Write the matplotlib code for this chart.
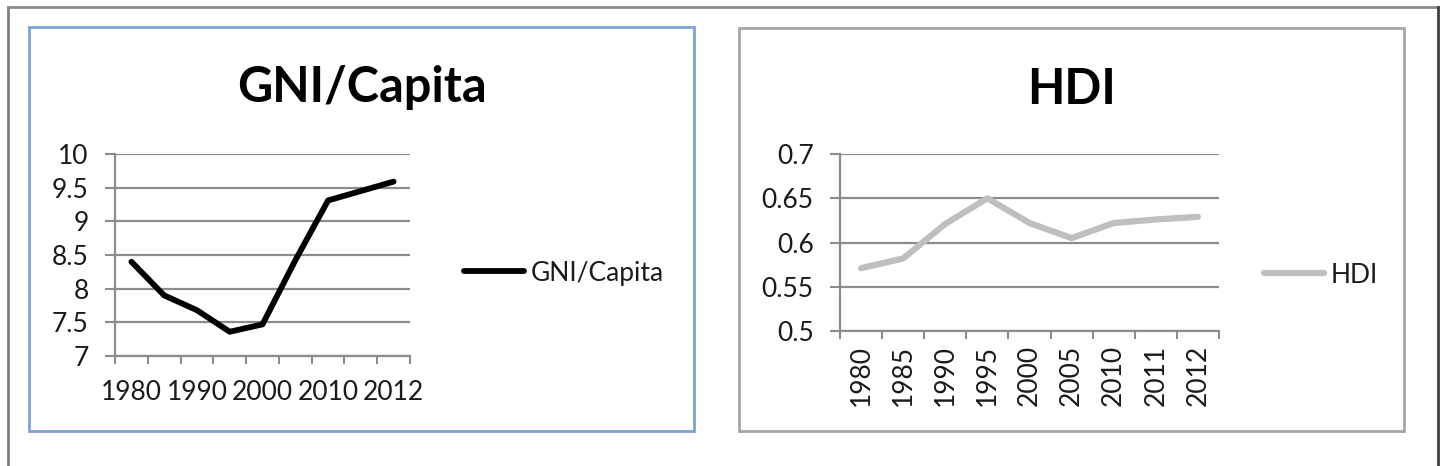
import matplotlib.pyplot as plt
from matplotlib.patches import Rectangle

# -------------------------------------------------
# DATA
# -------------------------------------------------
years = ["1980", "1985", "1990", "1995", "2000", "2005", "2010", "2011", "2012"]
gni_per_capita = [8.40, 7.90, 7.68, 7.36, 7.47, 8.42, 9.31, 9.45, 9.59]
hdi = [0.571, 0.582, 0.621, 0.650, 0.622, 0.605, 0.622, 0.626, 0.629]

gni_ticks = [7, 7.5, 8, 8.5, 9, 9.5, 10]
hdi_ticks = [0.5, 0.55, 0.6, 0.65, 0.7]

# -------------------------------------------------
# STYLE
# -------------------------------------------------
FONT = ["Lato", "DejaVu Sans"]
GRID = "#8C8C8C"
TXT = "#1A1A1A"
LABEL_FS = 19
W, H = 1445, 466

plt.rcParams["font.family"] = FONT


def fx(px):
    return px / W


def fy(py):
    return 1 - py / H


def category_axes(ax, labels, rotate, label_every, pad):
    n = len(labels)
    ax.set_xlim(-0.5, n - 0.5)
    ax.set_xticks(range(n))
    shown = [lab if i % label_every == 0 else "" for i, lab in enumerate(labels)]
    ax.set_xticklabels(shown, rotation=90 if rotate else 0)
    ax.tick_params(axis="x", which="major", length=0, pad=pad,
                   labelsize=LABEL_FS, labelcolor=TXT)
    ax.set_xticks([i - 0.5 for i in range(n + 1)], minor=True)
    ax.tick_params(axis="x", which="minor", length=6, width=1.5, color=GRID, direction="out")
    ax.tick_params(axis="y", length=7, width=1.5, color=GRID, pad=12,
                   labelsize=LABEL_FS, labelcolor=TXT)
    ax.grid(axis="y", color=GRID, linewidth=1.6)
    ax.set_axisbelow(True)
    for s in ["top", "right"]:
        ax.spines[s].set_visible(False)
    for s in ["left", "bottom"]:
        ax.spines[s].set_color(GRID)
        ax.spines[s].set_linewidth(1.6)


fig = plt.figure(figsize=(W / 100, H / 100), dpi=100)
fig.patch.set_facecolor("white")

# frame and panel borders
bg = fig.add_axes([0, 0, 1, 1])
bg.set_xlim(0, W)
bg.set_ylim(H, 0)
bg.axis("off")
bg.plot([8, 8], [H, 6.5], color="#7F7F7F", lw=2)
bg.plot([8, 1438], [6.5, 6.5], color="#8C8C8C", lw=2)
bg.plot([1438, 1438], [6.5, H], color="#404040", lw=2)
bg.add_patch(Rectangle((29, 27), 665, 404, fill=False, edgecolor="#7DA2D5", lw=2))
bg.add_patch(Rectangle((739, 28), 665, 403, fill=False, edgecolor="#A6A6A6", lw=2))

# -------------------------------------------------
# LEFT: GNI/Capita
# -------------------------------------------------
ax1 = fig.add_axes([fx(115), fy(356), fx(410 - 115), (356 - 154) / H])
x = range(len(years))
ax1.plot(x, gni_per_capita, color="black", lw=4.2, solid_joinstyle="round",
         solid_capstyle="round", label="GNI/Capita")
ax1.set_ylim(7, 10)
ax1.set_yticks(gni_ticks)
ax1.set_yticklabels([f"{v:g}" for v in gni_ticks])
category_axes(ax1, years, rotate=False, label_every=2, pad=17)
ax1.legend(loc="center left", bbox_to_anchor=(fx(440), fy(273)),
           bbox_transform=fig.transFigure, frameon=False, fontsize=LABEL_FS,
           handlelength=2.27, handletextpad=0.27, labelcolor=TXT)
fig.text(fx(362), fy(88), "GNI/Capita", ha="center", va="center",
         fontsize=35, fontweight="bold", color="black")

# -------------------------------------------------
# RIGHT: HDI
# -------------------------------------------------
ax2 = fig.add_axes([fx(840), fy(331), fx(1219 - 840), (331 - 154) / H])
ax2.plot(x, hdi, color="#BFBFBF", lw=4.5, solid_joinstyle="round",
         solid_capstyle="round", label="HDI")
ax2.set_ylim(0.5, 0.7)
ax2.set_yticks(hdi_ticks)
ax2.set_yticklabels([f"{v:g}" for v in hdi_ticks])
category_axes(ax2, years, rotate=True, label_every=1, pad=10)
ax2.legend(loc="center left", bbox_to_anchor=(fx(1240), fy(275)),
           bbox_transform=fig.transFigure, frameon=False, fontsize=LABEL_FS,
           handlelength=2.27, handletextpad=0.27, labelcolor=TXT)
fig.text(fx(1072), fy(90), "HDI", ha="center", va="center",
         fontsize=35, fontweight="bold", color="black")

fig.savefig("out.png", dpi=100, facecolor="white")
